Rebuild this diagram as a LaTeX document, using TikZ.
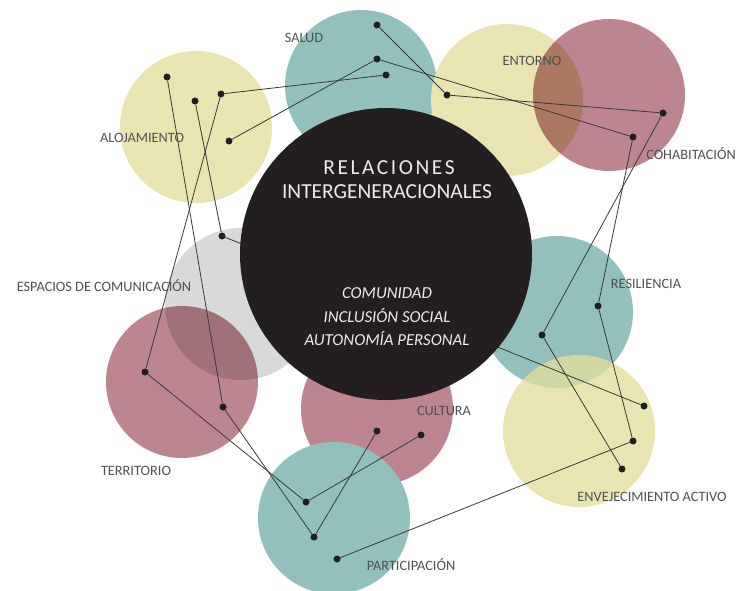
\documentclass[tikz,border=0pt]{standalone}
\usepackage{fontspec}
\setmainfont{Carlito}
\usepackage{xcolor}
\usepackage{tikz}
\usetikzlibrary{positioning}

\definecolor{tealfill}{RGB}{147,192,188}
\definecolor{sandfill}{RGB}{233,229,178}
\definecolor{sanddeep}{RGB}{227,222,156}
\definecolor{mauvefill}{RGB}{189,133,143}
\definecolor{mistfill}{RGB}{216,218,217}
\definecolor{inkfill}{RGB}{35,31,32}
\definecolor{tagtext}{RGB}{80,80,80}

\begin{document}
\begin{tikzpicture}[
  x=1pt, y=-1pt,
  bubble/.style={circle, inner sep=0pt, minimum size=152pt},
  dot/.style={circle, fill=black!88, inner sep=0pt, minimum size=7pt},
  link/.style={draw=black!78, line width=0.8pt},
  tag/.style={text=tagtext, font=\fontsize{14.3}{17}\selectfont},
  core/.style={text=white!92!black, align=center}
]
\useasboundingbox (0,0) rectangle (738,590);

\node[bubble, fill=tealfill] (salud) at (361,86) {};
\node[bubble, fill=sandfill] (alojamiento) at (196,127) {};
\node[bubble, fill=sandfill] (entorno) at (507,100) {};
\begin{scope}[blend mode=multiply]
\node[bubble, fill=mauvefill] (cohabitacion) at (609,95) {};
\end{scope}
\node[bubble, fill=mistfill] (espacios) at (241,304) {};
\begin{scope}[blend mode=multiply]
\node[bubble, fill=mauvefill] (territorio) at (182,382) {};
\end{scope}
\node[bubble, fill=mauvefill] (cultura) at (377,409) {};
\node[bubble, fill=tealfill] (participacion) at (334,518) {};
\node[bubble, fill=tealfill] (resiliencia) at (557,312) {};
\node[bubble, fill=sanddeep, fill opacity=0.78] (envejecimiento) at (579,431) {};

\node[dot] (s1) at (377,25) {};
\node[dot] (s2) at (377,59) {};
\node[dot] (s3) at (386,75) {};
\node[dot] (a1) at (167,77) {};
\node[dot] (a2) at (195,101) {};
\node[dot] (a3) at (221,94) {};
\node[dot] (a4) at (229,141) {};
\node[dot] (e1) at (447,95) {};
\node[dot] (c1) at (663,113) {};
\node[dot] (c2) at (633,137) {};
\node[dot] (g1) at (222,236) {};
\node[dot] (t1) at (145,372) {};
\node[dot] (t2) at (223,407) {};
\node[dot] (r1) at (598,306) {};
\node[dot] (r2) at (542,335) {};
\node[dot] (v1) at (644,406) {};
\node[dot] (v2) at (633,441) {};
\node[dot] (v3) at (622,469) {};
\node[dot] (cu1) at (377,431) {};
\node[dot] (cu2) at (421,435) {};
\node[dot] (p1) at (306,502) {};
\node[dot] (p2) at (314,537) {};
\node[dot] (p3) at (337,559) {};

\draw[link] (s1) -- (e1);
\draw[link] (s2) -- (c2);
\draw[link] (s2) -- (a4);
\draw[link] (s3) -- (a3);
\draw[link] (e1) -- (c1);
\draw[link] (c1) -- (r2);
\draw[link] (c2) -- (r1);
\draw[link] (r1) -- (v2);
\draw[link] (r2) -- (v3);
\draw[link] (v2) -- (p3);
\draw[link] (g1) -- (v1);
\draw[link] (a2) -- (g1);
\draw[link] (a3) -- (t1);
\draw[link] (a1) -- (t2);
\draw[link] (t1) -- (p1);
\draw[link] (t2) -- (p2);
\draw[link] (p1) -- (cu2);
\draw[link] (p2) -- (cu1);

\node[circle, fill=inkfill, inner sep=0pt, minimum size=292pt] (centro) at (386,254) {};
\node[core, font=\fontsize{21.4}{24}\selectfont\addfontfeature{LetterSpace=12}] (titulo1) at (389,168)
  {RELACIONES};
\node[core, font=\fontsize{21.4}{24}\selectfont] (titulo2) at (387,192)
  {INTERGENERACIONALES};
\node[core, font=\fontsize{16.8}{23.5}\selectfont\itshape] (ejes) at (387,317)
  {COMUNIDAD\\INCLUSIÓN SOCIAL\\AUTONOMÍA PERSONAL};

\node[tag] (l-salud) at (304,38) {SALUD};
\node[tag] (l-entorno) at (532,61) {ENTORNO};
\node[tag] (l-cohab) at (691,154) {COHABITACIÓN};
\node[tag] (l-aloj) at (142,138) {ALOJAMIENTO};
\node[tag] (l-esp) at (104,286) {ESPACIOS DE COMUNICACIÓN};
\node[tag] (l-resil) at (646,284) {RESILIENCIA};
\node[tag] (l-env) at (652,497) {ENVEJECIMIENTO ACTIVO};
\node[tag] (l-cult) at (444,411) {CULTURA};
\node[tag] (l-terr) at (136,471) {TERRITORIO};
\node[tag] (l-part) at (411,565) {PARTICIPACIÓN};
\end{tikzpicture}
\end{document}
